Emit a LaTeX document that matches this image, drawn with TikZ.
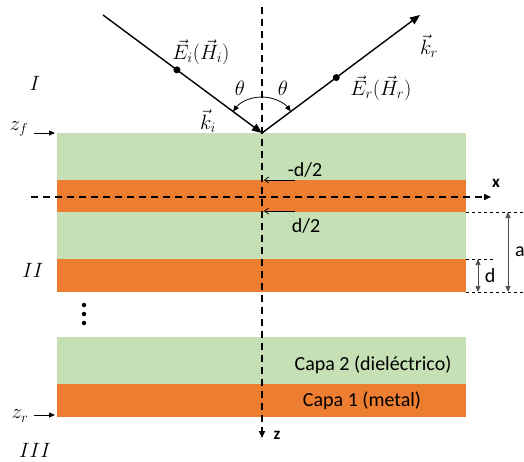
\documentclass[tikz,border=0pt]{standalone}
\usepackage{fontspec}
\setsansfont{Carlito}
\usetikzlibrary{arrows.meta,calc}
\definecolor{lgreen}{HTML}{C5E0B4}
\definecolor{lorange}{HTML}{ED7D31}
\begin{document}
\begin{tikzpicture}[x=1pt,y=-1pt,
  diel/.style={fill=lgreen},
  metal/.style={fill=lorange},
  axisline/.style={line width=1.5pt,dash pattern=on 7pt off 5pt,-{Triangle[length=7pt,width=6pt]}},
  ray/.style={line width=1.4pt,-{Triangle[length=10pt,width=8pt]}},
  dotmark/.style={circle,fill=black,inner sep=0pt,minimum size=7pt},
  mlabel/.style={font=\fontsize{20}{22}\selectfont},
  slabel/.style={font=\sffamily\fontsize{20}{22}\selectfont},
  thinarrow/.style={line width=0.7pt,-{Straight Barb[length=4pt,width=6pt]}},
  dimdash/.style={line width=0.6pt,dash pattern=on 3pt off 3pt},
  dimarrow/.style={line width=0.7pt,black!70,{Triangle[length=6pt,width=5pt]}-{Triangle[length=6pt,width=5pt]}}
]
\useasboundingbox (0,0) rectangle (524,461);
% layers
\fill[diel]  (57,133) rectangle (466,180);
\fill[metal] (57,180) rectangle (466,212);
\fill[diel]  (57,212) rectangle (466,259);
\fill[metal] (57,259) rectangle (466,292);
\fill[diel]  (57,337) rectangle (466,384);
\fill[metal] (57,384) rectangle (466,417);
% dots
\node[dotmark,minimum size=4.5pt] (v1) at (84,305) {};
\node[dotmark,minimum size=4.5pt] (v2) at (84,314) {};
\node[dotmark,minimum size=4.5pt] (v3) at (84,323) {};
% axes
\coordinate (ztop) at (262,7);
\coordinate (zend) at (262,438);
\coordinate (xstart) at (31,197);
\coordinate (xend) at (491,197);
\draw[axisline] (ztop) -- (zend);
\draw[axisline] (xstart) -- (xend);
\node[font=\sffamily\bfseries\fontsize{17}{19}\selectfont] (zl) at (277,435) {z};
\node[font=\sffamily\bfseries\fontsize{17}{19}\selectfont] (xl) at (496,183) {x};
% rays
\coordinate (O) at (262,133);
\coordinate (Pi) at (103,15);
\coordinate (Pr) at (420,15);
\draw[ray] (Pi) -- (O);
\draw[ray] (O) -- (Pr);
\node[dotmark] (di) at ($(Pi)!0.465!(O)$) {};
\node[dotmark] (dr) at ($(O)!0.47!(Pr)$) {};
\draw[line width=0.8pt,{Triangle[length=6pt,width=5pt]}-{Triangle[length=6pt,width=5pt]}]
  ($(O)+(216.6:36)$) arc[start angle=216.6,end angle=323.1,radius=36];
\node[mlabel] (Ei) at (201,52) {$\vec{E}_i(\vec{H}_i)$};
\node[mlabel] (kr) at (429,46) {$\vec{k}_r$};
\node[mlabel] (Er) at (381,88) {$\vec{E}_r(\vec{H}_r)$};
\node[mlabel] (th1) at (240,88) {$\theta$};
\node[mlabel] (th2) at (283,88) {$\theta$};
\node[mlabel] (ki) at (208,121) {$\vec{k}_i$};
% region labels
\node[mlabel] (r1) at (35,83) {$I$};
\node[mlabel] (r2) at (33,270) {$II$};
\node[mlabel] (r3) at (35,450) {$III$};
\node[mlabel] (zf) at (19,129) {$z_f$};
\node[mlabel] (zr) at (20,416) {$z_r$};
\coordinate (zfa) at (34,133); \coordinate (zfb) at (55,133);
\coordinate (zra) at (34,415); \coordinate (zrb) at (55,415);
\draw[line width=0.8pt,-{Triangle[length=6pt,width=5pt]}] (zfa) -- (zfb);
\draw[line width=0.8pt,-{Triangle[length=6pt,width=5pt]}] (zra) -- (zrb);
% d/2 markers
\coordinate (m1a) at (295,180); \coordinate (m1b) at (264,180);
\coordinate (m2a) at (295,211); \coordinate (m2b) at (264,211);
\draw[thinarrow] (m1a) -- (m1b);
\draw[thinarrow] (m2a) -- (m2b);
\node[slabel] (md) at (305,170) {-d/2};
\node[slabel] (pd) at (306,226) {d/2};
% dimensions
\coordinate (a1) at (466,212); \coordinate (a2) at (523,212);
\coordinate (b1) at (466,259); \coordinate (b2) at (493,259);
\coordinate (c1) at (466,292); \coordinate (c2) at (523,292);
\draw[dimdash] (a1) -- (a2);
\draw[dimdash] (b1) -- (b2);
\draw[dimdash] (c1) -- (c2);
\coordinate (at) at (508,212); \coordinate (ab) at (508,292);
\coordinate (dt) at (478,259); \coordinate (db) at (478,292);
\draw[dimarrow] (at) -- (ab);
\draw[dimarrow] (dt) -- (db);
\node[slabel,anchor=west,inner sep=0pt] (al) at (515,252) {a};
\node[slabel] (dl) at (490,276) {d};
% layer texts
\node[slabel] (c2t) at (373,365) {Capa 2 (dieléctrico)};
\node[slabel] (c1t) at (362,401) {Capa 1 (metal)};
\end{tikzpicture}
\end{document}
